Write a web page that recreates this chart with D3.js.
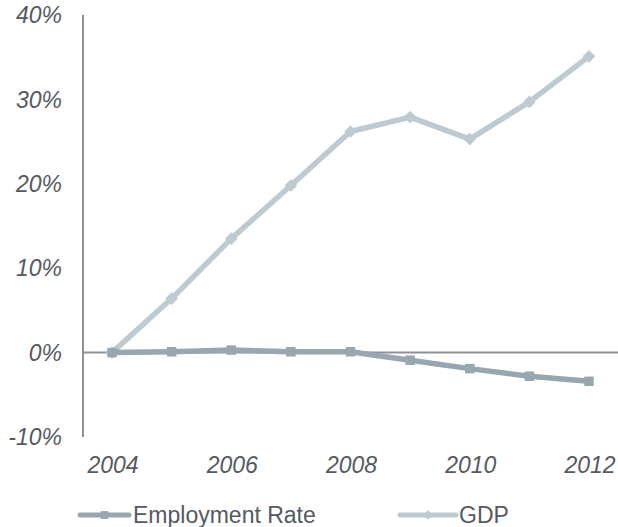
<!DOCTYPE html>
<html>
<head>
<meta charset="utf-8">
<script src="https://cdn.jsdelivr.net/npm/d3@7"></script>
<style>
  html, body { margin: 0; padding: 0; background: #fff; }
  svg { display: block; font-family: "Liberation Sans", Arial, sans-serif; }
</style>
</head>
<body>
<svg id="chart" width="618" height="527"></svg>
<script>
// Growth since 2004 (percent)
const years = [2004, 2005, 2006, 2007, 2008, 2009, 2010, 2011, 2012];
const employmentRate = [0, 0.1, 0.3, 0.1, 0.1, -0.9, -1.9, -2.8, -3.4];
const gdp = [0, 6.4, 13.5, 19.8, 26.2, 27.9, 25.3, 29.7, 35.1];
const yTicks = [-10, 0, 10, 20, 30, 40];
const xTicks = [2004, 2006, 2008, 2010, 2012];
const seriesNames = ["Employment Rate", "GDP"];

const colors = { emp: "#97a6af", gdp: "#bdcad1", text: "#555a60", axis: "#8e9194" };

const svg = d3.select("#chart");

const x = d3.scaleLinear().domain([2004, 2012]).range([112, 589]);
const y = d3.scaleLinear().domain([-10, 40]).range([437, 15]);
const axisX = 83;

// vertical axis line
svg.append("line")
  .attr("x1", axisX).attr("x2", axisX)
  .attr("y1", y(40)).attr("y2", y(-10))
  .attr("stroke", colors.axis).attr("stroke-width", 2);

// zero baseline
svg.append("line")
  .attr("x1", axisX).attr("x2", 618)
  .attr("y1", y(0)).attr("y2", y(0))
  .attr("stroke", colors.axis).attr("stroke-width", 2);

// y tick labels
svg.append("g").selectAll("text").data(yTicks).join("text")
  .attr("x", 62).attr("y", d => y(d))
  .attr("dy", "0.36em")
  .attr("text-anchor", "end")
  .attr("font-size", 23).attr("font-style", "italic")
  .attr("fill", colors.text)
  .text(d => d + "%");

// x tick labels
svg.append("g").selectAll("text").data(xTicks).join("text")
  .attr("x", d => x(d) + 1).attr("y", 473)
  .attr("text-anchor", "middle")
  .attr("font-size", 23).attr("font-style", "italic")
  .attr("fill", colors.text)
  .text(d => d);

const line = d3.line().x(d => x(d[0])).y(d => y(d[1]));

// marker: square, or square turned 45° for a diamond
function marker(g, kind, size) {
  g.attr("d", d3.symbol().type(d3.symbolSquare).size(size))
   .attr("transform", function () {
     const t = d3.select(this).attr("transform") || "";
     return kind === "diamond" ? t + " rotate(45)" : t;
   });
}

function drawSeries(values, color, kind, size) {
  const pts = years.map((yr, i) => [yr, values[i]]);
  svg.append("path").datum(pts)
    .attr("d", line)
    .attr("fill", "none").attr("stroke", color)
    .attr("stroke-width", 5.5).attr("stroke-linejoin", "round");
  svg.append("g").selectAll("path").data(pts).join("path")
    .attr("transform", d => `translate(${x(d[0])},${y(d[1])})`)
    .attr("fill", color)
    .call(marker, kind, size);
}

drawSeries(gdp, colors.gdp, "diamond", 80);
drawSeries(employmentRate, colors.emp, "square", 90);

// legend
const legend = [
  { name: seriesNames[0], color: colors.emp, kind: "square", size: 60, x0: 80, x1: 129, tx: 133 },
  { name: seriesNames[1], color: colors.gdp, kind: "diamond", size: 45, x0: 400, x1: 456, tx: 459 }
];
const lg = svg.append("g").selectAll("g").data(legend).join("g");
lg.append("line")
  .attr("x1", d => d.x0).attr("x2", d => d.x1)
  .attr("y1", 515).attr("y2", 515)
  .attr("stroke", d => d.color).attr("stroke-width", 5).attr("stroke-linecap", "round");
lg.append("path")
  .attr("transform", d => `translate(${(d.x0 + d.x1) / 2},515)` + (d.kind === "diamond" ? " rotate(45)" : ""))
  .attr("d", d => d3.symbol().type(d3.symbolSquare).size(d.size)())
  .attr("fill", d => d.color);
lg.append("text")
  .attr("x", d => d.tx).attr("y", 523)
  .attr("font-size", 23)
  .attr("fill", colors.text)
  .text(d => d.name);
</script>
</body>
</html>
